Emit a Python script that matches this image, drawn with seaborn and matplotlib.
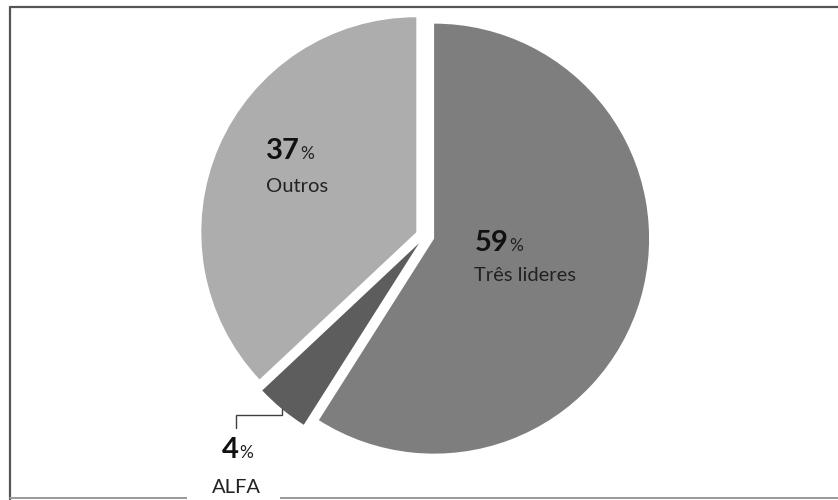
import matplotlib
matplotlib.use('Agg')
import matplotlib.pyplot as plt
import seaborn as sns
import numpy as np
from matplotlib.patches import Rectangle
from matplotlib.lines import Line2D

# ---- data ----
categories = ['Três lideres', 'ALFA', 'Outros']
shares = [59, 4, 37]
colors = ['#7e7e7e', '#5d5d5d', '#adadad']

sns.set_theme(style='white')
plt.rcParams['font.family'] = ['Lato', 'DejaVu Sans']

W, H = 838, 500
fig = plt.figure(figsize=(W / 100, H / 100), dpi=100)
ax = fig.add_axes([0, 0, 1, 1])

R = 215.0            # pie radius in pixels
CX, CY = 425.0, 236.0  # pie centre in pixels (from top-left)


def P(x, y):
    """pixel position (from top-left) -> data coords"""
    return ((x - CX) / R, (CY - y) / R)


wedges, _ = ax.pie(shares, colors=colors, startangle=90, counterclock=False,
                   explode=[0.044] * len(shares), radius=1,
                   wedgeprops=dict(linewidth=0))
ax.set_xlim(-CX / R, (W - CX) / R)
ax.set_ylim(-(H - CY) / R, CY / R)
ax.set_aspect('auto')
ax.axis('off')

# label layout (pixel positions of number / name, left aligned at baseline)
label_pos = {
    'Três lideres': ((475, 251), (474, 281)),
    'Outros': ((266, 159), (266, 192)),
    'ALFA': ((222, 458), (212, 493)),
}

renderer = fig.canvas.get_renderer()
inv = ax.transData.inverted()
for cat, val in zip(categories, shares):
    (nx, ny), (tx, ty) = label_pos[cat]
    t = ax.text(*P(nx, ny), f'{val}', fontsize=21, fontweight='bold',
                color='#111111', ha='left', va='baseline', zorder=6)
    bb = t.get_window_extent(renderer)
    x_pct = inv.transform((bb.x1 + 0.5, 0))[0]
    ax.text(x_pct, P(0, ny)[1], '%', fontsize=12.5, color='#222222',
            ha='left', va='baseline', zorder=6)
    ax.text(*P(tx, ty), cat, fontsize=14.5, color='#222222',
            ha='left', va='baseline', zorder=6)

# leader line to ALFA wedge
w = wedges[categories.index('ALFA')]
tm = np.deg2rad((w.theta1 + w.theta2) / 2)
ax_, ay_ = w.center[0] + w.r * np.cos(tm), w.center[1] + w.r * np.sin(tm)
y_h = P(0, 415)[1]
x_v = P(236, 0)[0]
y_e = P(0, 428)[1]
ax.plot([ax_, ax_, x_v, x_v], [ay_, y_h, y_h, y_e], color='#404040', lw=1.0,
        solid_joinstyle='miter', zorder=4)

# outer frame
kw = dict(transform=ax.transAxes, clip_on=False, zorder=3)
ax.add_line(Line2D([10 / W, 10 / W], [0, 1 - 6.5 / H], color='#555555', lw=1.6, **kw))
ax.add_line(Line2D([10 / W, 1], [1 - 6.5 / H, 1 - 6.5 / H], color='#555555', lw=1.6, **kw))
ax.add_line(Line2D([10 / W, 1], [1 - 497.5 / H, 1 - 497.5 / H], color='#999999', lw=1.4, **kw))

# white box behind the ALFA label breaking the frame
ax.add_patch(Rectangle((187 / W, 0), (280 - 187) / W, (500 - 468) / H,
                       transform=ax.transAxes, facecolor='white',
                       edgecolor='none', clip_on=False, zorder=5))

fig.savefig('out.png', dpi=100, facecolor='white')
